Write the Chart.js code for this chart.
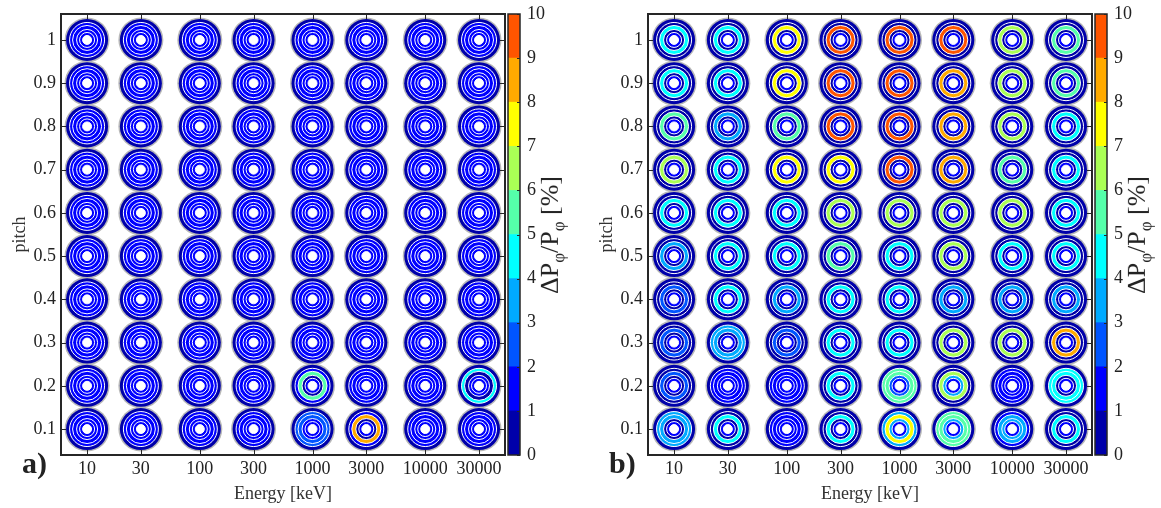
<!DOCTYPE html>
<html>
<head>
<meta charset="utf-8">
<script src="https://cdn.jsdelivr.net/npm/chart.js@4.4.1/dist/chart.umd.min.js"></script>
<style>
  body { margin: 0; background: #fff; }
  #wrap { position: relative; width: 1161px; height: 508px; overflow: hidden; font-family: "Liberation Serif", serif; color: #222; }
  canvas { position: absolute; top: 0; }
  .tag { position: absolute; font-weight: bold; font-size: 30px; top: 446px; }
  .cbtitle { position: absolute; font-size: 26px; white-space: nowrap; transform: translate(-50%, -50%) rotate(-90deg); top: 235px; color: #222; }
  .cbtitle sub { font-size: 17px; }
</style>
</head>
<body>
<div id="wrap">
  <canvas id="panelA" width="510" height="508" style="left:0px"></canvas>
  <canvas id="cbarA" width="69" height="508" style="left:505px"></canvas>
  <canvas id="panelB" width="510" height="508" style="left:587px"></canvas>
  <canvas id="cbarB" width="69" height="508" style="left:1092px"></canvas>
  <div class="tag" style="left:22px">a)</div>
  <div class="tag" style="left:609px">b)</div>
  <div class="cbtitle" style="left:552px">ΔP<sub>φ</sub>/P<sub>φ</sub> [%]</div>
  <div class="cbtitle" style="left:1139px">ΔP<sub>φ</sub>/P<sub>φ</sub> [%]</div>
</div>
<script>
// axes
const energy = [10, 30, 100, 300, 1000, 3000, 10000, 30000];
const pitch = [1, 0.9, 0.8, 0.7, 0.6, 0.5, 0.4, 0.3, 0.2, 0.1];
const colorTicks = [0, 1, 2, 3, 4, 5, 6, 7, 8, 9, 10];

// 10-step jet colormap, one colour per 1% bin
const jet = ['#0000AA', '#0000FF', '#0055FF', '#00AAFF', '#00FFFF',
             '#55FFAA', '#AAFF55', '#FFFF00', '#FFAA00', '#FF5500'];

// each glyph = 5 rings, outside -> inside, digit = % bin of dP/P
// rows follow pitch (1 at top), columns follow energy
const panelA = [
  ['01111', '01111', '01111', '01111', '01111', '01111', '01111', '01111'],
  ['01111', '01111', '01111', '01111', '01111', '01111', '01111', '01111'],
  ['01111', '01111', '01111', '01111', '01111', '01111', '01111', '01111'],
  ['01111', '01111', '01111', '01111', '01111', '01111', '01111', '01111'],
  ['01111', '01111', '01111', '01111', '01111', '01111', '01111', '01111'],
  ['01111', '01111', '01111', '01111', '01111', '01111', '01111', '01111'],
  ['01111', '01111', '01111', '01111', '01111', '01111', '01111', '01111'],
  ['01111', '01111', '01111', '01111', '01111', '01111', '01111', '01111'],
  ['01111', '01111', '01111', '01111', '01501', '01111', '01111', '04011'],
  ['01111', '01111', '01111', '01111', '02211', '01801', '01111', '01111']
];

const panelB = [
  ['00401', '00401', '00701', '00901', '00901', '00901', '00601', '00501'],
  ['00401', '00401', '00701', '00901', '00901', '00801', '00601', '00501'],
  ['00501', '00301', '00501', '00901', '00901', '00801', '00601', '00401'],
  ['00601', '00401', '00701', '00701', '00901', '00801', '00501', '00401'],
  ['00401', '00401', '00401', '00601', '00601', '00601', '00601', '00401'],
  ['00301', '00401', '00401', '00501', '00401', '00601', '00401', '00401'],
  ['00201', '00401', '00301', '00401', '00401', '00301', '00301', '00301'],
  ['00201', '03301', '00201', '00401', '00401', '00601', '00601', '00801'],
  ['00201', '01111', '01111', '00401', '05521', '00631', '01111', '04401'],
  ['03301', '00401', '01111', '00401', '03731', '05531', '01331', '00401']
];

// ring geometry (pixels)
const outerRadius = 22.5;
const ringRadius = [21, 17.5, 14.5, 10.5, 7.5];
const holeRadius = 4.5;

const serif = { family: '"Liberation Serif", serif', size: 18 };

function glyphDatasets(panel) {
  const pts = [];
  pitch.forEach((p, r) => energy.forEach((e, c) => pts.push({ x: e, y: p, bins: panel[r][c] })));
  const xy = () => pts.map(d => ({ x: d.x, y: d.y }));
  const sets = [{
    data: xy(), pointRadius: outerRadius, pointBackgroundColor: '#b8b8b8',
    pointBorderWidth: 0, order: 20
  }];
  ringRadius.forEach((rad, i) => {
    sets.push({
      data: xy(), pointRadius: rad,
      pointBackgroundColor: pts.map(d => jet[+d.bins[i]]),
      pointBorderColor: '#fff', pointBorderWidth: i ? 1 : 0, order: 10 - i
    });
  });
  sets.push({
    data: xy(), pointRadius: holeRadius, pointBackgroundColor: '#fff',
    pointBorderColor: '#fff', pointBorderWidth: 1, order: 0
  });
  sets.forEach(s => { s.pointHoverRadius = s.pointRadius; s.showLine = false; });
  return sets;
}

// black box plus inward ticks, matlab style
const framePlugin = {
  id: 'frame',
  afterDatasetsDraw(chart, args, opts) {
    const { ctx, chartArea: a, scales } = chart;
    ctx.save();
    ctx.strokeStyle = '#262626';
    ctx.lineWidth = 1;
    const len = opts.len || 5;
    if (opts.xTicks) {
      scales.x.ticks.forEach(t => {
        const px = Math.round(scales.x.getPixelForValue(t.value)) + 0.5;
        ctx.beginPath();
        ctx.moveTo(px, a.bottom); ctx.lineTo(px, a.bottom - len);
        ctx.moveTo(px, a.top); ctx.lineTo(px, a.top + len);
        ctx.stroke();
      });
    }
    if (opts.yTicks) {
      scales.y.ticks.forEach(t => {
        const py = Math.round(scales.y.getPixelForValue(t.value)) + 0.5;
        ctx.beginPath();
        if (opts.leftTicks !== false) { ctx.moveTo(a.left, py); ctx.lineTo(a.left + len, py); }
        ctx.moveTo(a.right, py); ctx.lineTo(a.right - len, py);
        ctx.stroke();
      });
    }
    ctx.lineWidth = opts.width || 2;
    ctx.strokeRect(a.left, a.top, a.right - a.left, a.bottom - a.top);
    ctx.restore();
  }
};

// fixed axis size, no extra room for overhanging labels
const fixSize = (w, h) => a => {
  if (w != null) a.width = w;
  if (h != null) a.height = h;
  a.paddingLeft = a.paddingRight = a.paddingTop = a.paddingBottom = 0;
};

const noGrid = { display: false, drawTicks: false };

function makePanel(id, panel) {
  return new Chart(document.getElementById(id), {
    type: 'scatter',
    data: { datasets: glyphDatasets(panel) },
    plugins: [framePlugin],
    options: {
      responsive: false,
      animation: false,
      events: [],
      layout: { autoPadding: false, padding: { top: 14, right: 5, left: 0, bottom: 0 } },
      plugins: {
        legend: { display: false },
        tooltip: { enabled: false },
        frame: { xTicks: true, yTicks: true, len: 5, width: 2 }
      },
      scales: {
        x: {
          type: 'logarithmic', min: 5.87, max: 51000,
          afterBuildTicks: a => { a.ticks = energy.map(v => ({ value: v })); },
          afterFit: fixSize(null, 53),
          grid: noGrid, border: { display: false },
          ticks: { callback: v => String(v), font: serif, color: '#222', padding: 3, maxRotation: 0, autoSkip: false },
          title: { display: true, text: 'Energy [keV]', font: serif, color: '#333', padding: { top: 0, bottom: 3 } }
        },
        y: {
          min: 0.04, max: 1.06,
          afterBuildTicks: a => { a.ticks = pitch.map(v => ({ value: v })); },
          afterFit: fixSize(61, null),
          grid: noGrid, border: { display: false },
          ticks: { callback: v => String(v), font: serif, color: '#222', padding: 5, autoSkip: false },
          title: { display: true, text: 'pitch', font: serif, color: '#333', padding: { top: 9, bottom: 0 } }
        }
      }
    }
  });
}

function makeColorbar(id) {
  return new Chart(document.getElementById(id), {
    type: 'bar',
    data: {
      labels: [''],
      datasets: jet.map(c => ({
        data: [1], backgroundColor: c, borderWidth: 0,
        barPercentage: 1, categoryPercentage: 1
      }))
    },
    plugins: [framePlugin],
    options: {
      responsive: false,
      animation: false,
      events: [],
      layout: { autoPadding: false, padding: { top: 14, right: 0, left: 3, bottom: 53 } },
      plugins: {
        legend: { display: false },
        tooltip: { enabled: false },
        frame: { yTicks: true, leftTicks: false, len: 3, width: 1.5 }
      },
      scales: {
        x: { stacked: true, display: false },
        y: {
          stacked: true, position: 'right', min: 0, max: 10,
          afterBuildTicks: a => { a.ticks = colorTicks.map(v => ({ value: v })); },
          afterFit: fixSize(54, null),
          grid: noGrid, border: { display: false },
          ticks: { callback: v => String(v), font: serif, color: '#222', padding: 7, autoSkip: false }
        }
      }
    }
  });
}

makePanel('panelA', panelA);
makePanel('panelB', panelB);
makeColorbar('cbarA');
makeColorbar('cbarB');
</script>
</body>
</html>
